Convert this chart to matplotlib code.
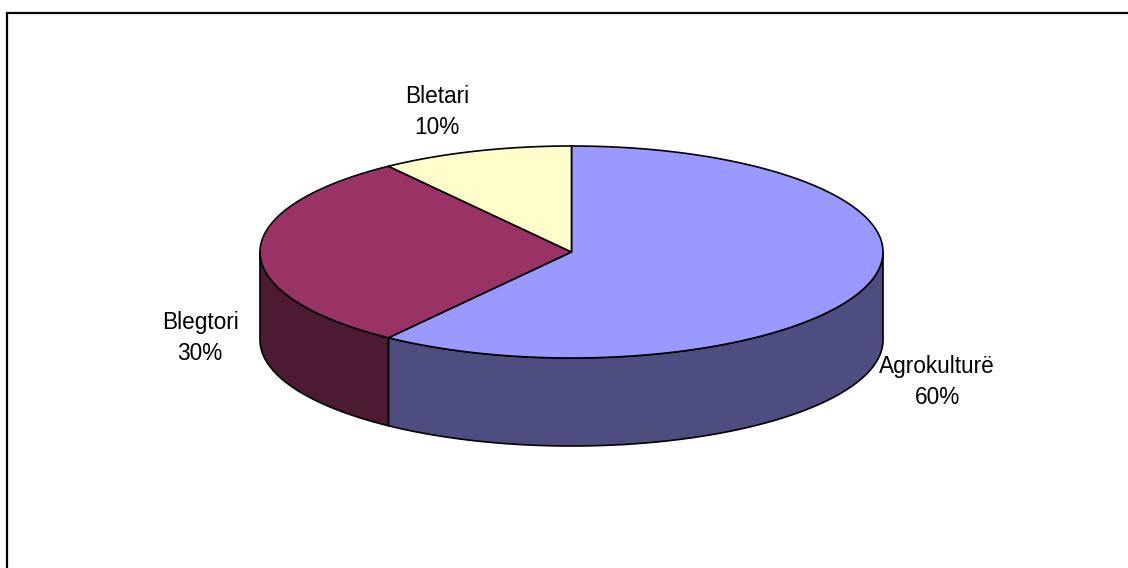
import numpy as np
import matplotlib.pyplot as plt
from matplotlib.patches import Polygon

labels = ["Agrokulturë", "Blegtori", "Bletari"]
shares = [60, 30, 10]
top_colors = ["#9999FF", "#993366", "#FFFFCC"]
side_colors = ["#4D4D80", "#4D1A33", "#808066"]

# layout of the 3d pie, in pixels
cx, cy = 571.5, 252
rx, ry = 311.5, 106
depth = 88
label_pos = [(937, 382), (200, 338), (437, 112)]

fig = plt.figure(figsize=(11.28, 5.68), dpi=100)
ax = fig.add_axes([0, 0, 1, 1])
ax.set_xlim(0, 1128)
ax.set_ylim(568, 0)
ax.axis("off")

# chart frame (only top and left edges are in view)
ax.plot([7, 1128], [13, 13], color="black", lw=1.6)
ax.plot([7, 7], [13, 568], color="black", lw=1.6)


def ell(t, dy=0):
    t = np.radians(t)
    return np.column_stack([cx + rx * np.cos(t), cy - ry * np.sin(t) + dy])


# slice angles, clockwise from 12 o'clock
total = sum(shares)
spans = []
start = 90.0
for s in shares:
    end = start - 360.0 * s / total
    spans.append((end, start))
    start = end

# side walls (front half only)
for (a0, a1), sc in zip(spans, side_colors):
    for off in (-360, 0, 360):
        lo = max(a0 + off, -180)
        hi = min(a1 + off, 0)
        if hi - lo <= 0:
            continue
        t = np.linspace(lo, hi, 120)
        pts = np.vstack([ell(t), ell(t[::-1], depth)])
        ax.add_patch(Polygon(pts, closed=True, fc=sc, ec="black", lw=1.2,
                             joinstyle="round"))

# top faces
for (a0, a1), tc in zip(spans, top_colors):
    t = np.linspace(a0, a1, 200)
    pts = np.vstack([[cx, cy], ell(t)])
    ax.add_patch(Polygon(pts, closed=True, fc=tc, ec="black", lw=1.2,
                         joinstyle="round"))

for name, s, (lx, ly) in zip(labels, shares, label_pos):
    ax.text(lx, ly, f"{name}\n{s}%", ha="center", va="center",
            fontsize=16.3, family="Liberation Sans", linespacing=1.42)

fig.savefig("out.png", dpi=100, facecolor="white")
